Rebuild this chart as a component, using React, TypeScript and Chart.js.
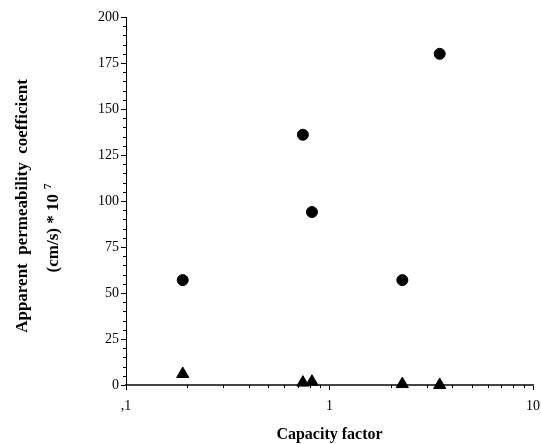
import React, { useEffect, useRef } from 'react';
import { Chart, registerables } from 'chart.js';

Chart.register(...registerables);

// ---- data ----
const capacityFactor = [0.19, 0.74, 0.82, 2.28, 3.48];
const circleValues = [57, 136, 94, 57, 180];
const triangleValues = [6, 1.3, 1.8, 0.5, 0];
const xTickValues = [0.1, 1, 10];
const xTickLabels = [',1', '1', '10'];
const xMinorValues = [0.2, 0.3, 0.4, 0.5, 0.6, 0.7, 0.8, 0.9, 2, 3, 4, 5, 6, 7, 8, 9];
const yMin = 0;
const yMax = 200;
const yStep = 25;
const yMinorStep = 5;
const xTitle = 'Capacity factor';
const yTitleLine1 = 'Apparent  permeability  coefficient';
const yTitleLine2 = '(cm/s) * 10';
const yTitleExponent = '7';

const SERIF = '"Liberation Serif", "Times New Roman", serif';

const customAxes = {
  id: 'customAxes',
  afterDraw(chart: any) {
    const { ctx, chartArea, scales } = chart;
    const xs = scales.x;
    const ys = scales.y;
    ctx.save();
    ctx.strokeStyle = '#000';
    ctx.lineWidth = 1;
    // y minor ticks
    for (let v = yMin; v <= yMax; v += yMinorStep) {
      if (v % yStep === 0) continue;
      const py = Math.round(ys.getPixelForValue(v)) + 0.5;
      ctx.beginPath();
      ctx.moveTo(chartArea.left - 3, py);
      ctx.lineTo(chartArea.left, py);
      ctx.stroke();
    }
    // x minor ticks
    xMinorValues.forEach((v) => {
      const px = Math.round(xs.getPixelForValue(v)) + 0.5;
      ctx.beginPath();
      ctx.moveTo(px, chartArea.bottom);
      ctx.lineTo(px, chartArea.bottom + 3);
      ctx.stroke();
    });

    ctx.fillStyle = '#000';
    // x title
    ctx.font = `bold 16px ${SERIF}`;
    ctx.textAlign = 'center';
    ctx.textBaseline = 'alphabetic';
    ctx.fillText(xTitle, (chartArea.left + chartArea.right) / 2, 439);

    // y title line 1
    ctx.save();
    ctx.translate(27, 206);
    ctx.rotate(-Math.PI / 2);
    ctx.font = `bold 17px ${SERIF}`;
    ctx.textAlign = 'center';
    ctx.fillText(yTitleLine1, 0, 0);
    ctx.restore();

    // y title line 2 with exponent
    ctx.save();
    ctx.translate(58, 228);
    ctx.rotate(-Math.PI / 2);
    ctx.font = `bold 17px ${SERIF}`;
    const w1 = ctx.measureText(yTitleLine2).width;
    const gap = 5;
    ctx.font = `bold 11px ${SERIF}`;
    const w2 = ctx.measureText(yTitleExponent).width;
    const start = -(w1 + gap + w2) / 2;
    ctx.textAlign = 'left';
    ctx.font = `bold 17px ${SERIF}`;
    ctx.fillText(yTitleLine2, start, 0);
    ctx.font = `bold 11px ${SERIF}`;
    ctx.fillText(yTitleExponent, start + w1 + gap, -7);
    ctx.restore();

    ctx.restore();
  },
};

export default function App() {
  const canvasRef = useRef<HTMLCanvasElement | null>(null);

  useEffect(() => {
    if (!canvasRef.current) return;
    const chart = new Chart(canvasRef.current, {
      type: 'scatter',
      data: {
        datasets: [
          {
            label: 'circles',
            data: capacityFactor.map((x, i) => ({ x, y: circleValues[i] })),
            pointStyle: 'circle',
            pointRadius: 5.5,
            backgroundColor: '#000',
            borderColor: '#000',
            borderWidth: 1,
            clip: false,
          },
          {
            label: 'triangles',
            data: capacityFactor.map((x, i) => ({ x, y: triangleValues[i] })),
            pointStyle: 'triangle',
            pointRadius: 7,
            backgroundColor: '#000',
            borderColor: '#000',
            borderWidth: 1,
            clip: false,
          },
        ],
      },
      options: {
        responsive: false,
        animation: false,
        layout: { padding: { top: 17, right: 8, left: 0, bottom: 0 } },
        plugins: {
          legend: { display: false },
          tooltip: { enabled: false },
        },
        scales: {
          x: {
            type: 'logarithmic',
            min: 0.1,
            max: 10,
            afterBuildTicks: (scale: any) => {
              scale.ticks = xTickValues.map((v) => ({ value: v }));
            },
            afterFit: (scale: any) => {
              scale.height = 59;
              scale.paddingLeft = 0;
              scale.paddingRight = 0;
            },
            ticks: {
              autoSkip: false,
              maxRotation: 0,
              padding: 8,
              color: '#000',
              font: { family: SERIF, size: 14 },
              callback: (_v: any, index: number) => xTickLabels[index],
            },
            grid: {
              display: true,
              drawOnChartArea: false,
              drawTicks: true,
              tickLength: 5,
              color: '#000',
            },
            border: { display: true, color: '#444', width: 2 },
          },
          y: {
            type: 'linear',
            min: yMin,
            max: yMax,
            afterFit: (scale: any) => {
              scale.width = 126;
              scale.paddingTop = 0;
              scale.paddingBottom = 0;
            },
            ticks: {
              stepSize: yStep,
              padding: 2,
              color: '#000',
              font: { family: SERIF, size: 14 },
            },
            grid: {
              display: true,
              drawOnChartArea: false,
              drawTicks: true,
              tickLength: 5,
              color: '#000',
            },
            border: { display: true, color: '#000', width: 1 },
          },
        },
      },
      plugins: [customAxes],
    });
    return () => chart.destroy();
  }, []);

  return (
    <div style={{ position: 'absolute', left: 0, top: 0, width: 541, height: 444, background: '#fff' }}>
      <canvas ref={canvasRef} width={541} height={444} />
    </div>
  );
}
